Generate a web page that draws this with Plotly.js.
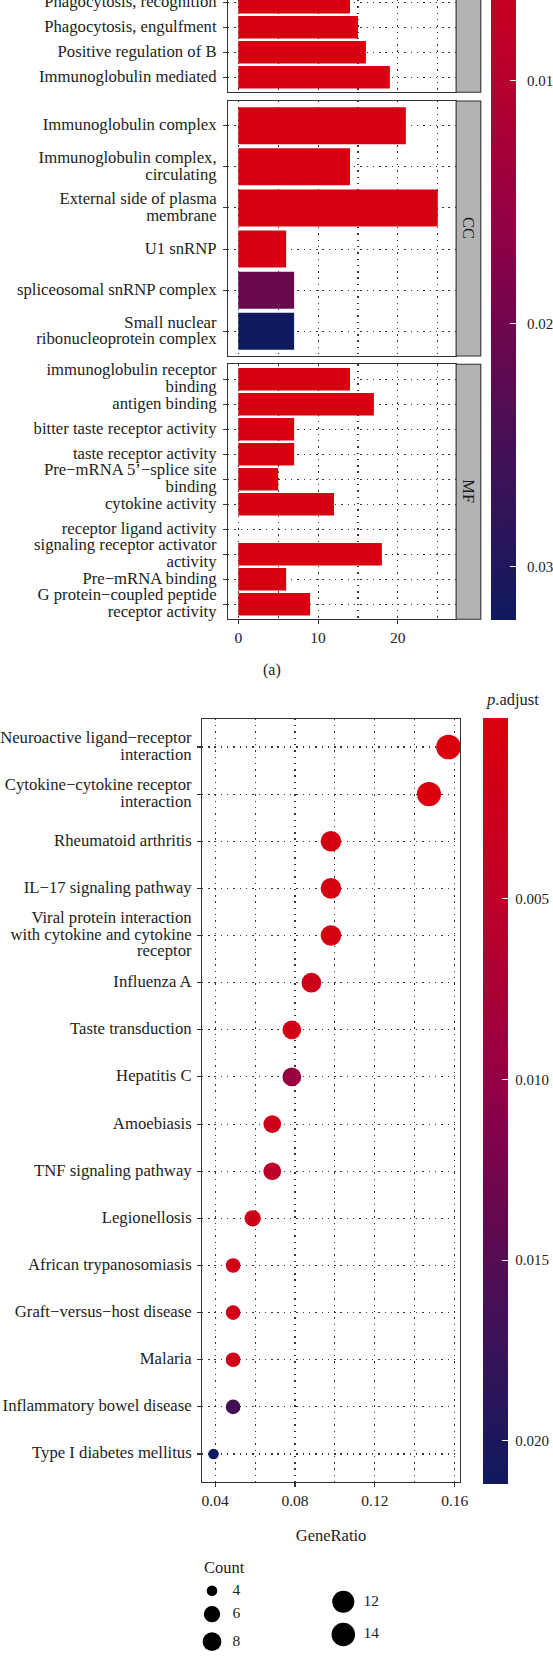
<!DOCTYPE html>
<html><head><meta charset="utf-8">
<script src="https://cdn.plot.ly/plotly-3.0.1.min.js"></script>
<style>html,body{margin:0;padding:0;background:#fff;}</style>
</head><body><div id="chart" style="width:553px;height:1667px;"></div>
<script>
// ---------------- Panel (a): GO enrichment (bar chart, faceted) ----------------
const bpTerms = ["Phagocytosis, recognition", "Phagocytosis, engulfment", "Positive regulation of B", "Immunoglobulin mediated"];
const bpCount = [14, 15, 16, 19];
const bpPadj  = [0.0020, 0.0020, 0.0020, 0.0020];

const ccTerms = ["Immunoglobulin complex", "Immunoglobulin complex,<br>circulating", "External side of plasma<br>membrane", "U1 snRNP", "spliceosomal snRNP complex", "Small nuclear<br>ribonucleoprotein complex"];
const ccCount = [21, 14, 25, 6, 7, 7];
const ccPadj  = [0.0020, 0.0020, 0.0020, 0.0025, 0.0210, 0.0322];

const mfTerms = ["immunoglobulin receptor<br>binding", "antigen binding", "bitter taste receptor activity", "taste receptor activity", "Pre−mRNA 5’−splice site<br>binding", "cytokine activity", "receptor ligand activity", "signaling receptor activator<br>activity", "Pre−mRNA binding", "G protein−coupled peptide<br>receptor activity"];
const mfCount = [14, 17, 7, 7, 5, 12, null, 18, 6, 9];
const mfPadj  = [0.0020, 0.0020, 0.0020, 0.0020, 0.0020, 0.0020, null, 0.0020, 0.0020, 0.0020];

const countAxisRange = [-1.3, 27.3];
const padjTopLimits  = [0.001, 0.0322];
const padjTopTicks   = [0.01, 0.02, 0.03];

// ---------------- Panel (b): KEGG enrichment (dot plot) ----------------
const keggTerms = ["Neuroactive ligand−receptor<br>interaction", "Cytokine−cytokine receptor<br>interaction", "Rheumatoid arthritis", "IL−17 signaling pathway", "Viral protein interaction<br>with cytokine and cytokine<br>receptor", "Influenza A", "Taste transduction", "Hepatitis C", "Amoebiasis", "TNF signaling pathway", "Legionellosis", "African trypanosomiasis", "Graft−versus−host disease", "Malaria", "Inflammatory bowel disease", "Type I diabetes mellitus"];
const keggGeneRatio = [0.1569, 0.1471, 0.0980, 0.0980, 0.0980, 0.0882, 0.0784, 0.0784, 0.0686, 0.0686, 0.0588, 0.0490, 0.0490, 0.0490, 0.0490, 0.0392];
const keggCount = [16, 15, 10, 10, 10, 9, 8, 8, 7, 7, 6, 5, 5, 5, 5, 4];
const keggPadj  = [0.000014, 0.00005, 0.0012, 0.0012, 0.0012, 0.0025, 0.0015, 0.0095, 0.0025, 0.0055, 0.0020, 0.0020, 0.0020, 0.0020, 0.0165, 0.0212];
const padjBottomTicks = [0.005, 0.010, 0.015, 0.020];
const countLegend = [4, 6, 8, 10, 12, 14, 16];

// ---------------- Styling / layout helpers ----------------
const W = 553, H = 1667;
const fx = px => px / W;
const fy = py => 1 - py / H;
const FONT = "Liberation Serif, Times New Roman, serif";
const TXT = "#222";
const LINE = "#333";
const NBSP = "\u00a0";
// category labels: glyphs at 16.7px, line pitch set by a smaller base size (tight leading as in the original)
const LABEL_PX = 16.7, LABEL_BASE = 12.7;
const lab = (s, pad) => s.split("<br>").map(t => '<span style="font-size:' + LABEL_PX + 'px">' + t + (pad || "") + '</span>').join("<br>");
const labTop = s => lab(s, NBSP);
const labBot = s => lab(s, "");
// colour scale (applied to -p so that low p sits at the top of the colour bar)
const cs = [[0, "#0F1A5E"], [0.25, "#4A0F55"], [0.5, "#8E0047"], [0.75, "#BE0029"], [1, "#DA000C"]];

// size mapping for Count
const cMin = Math.min(...keggCount), cMax = Math.max(...keggCount);
const sizeFn = c => 10.6 + 14.1 * Math.sqrt((c - cMin) / (cMax - cMin));

const dotted = {griddash: "1.4px,4.9px", gridcolor: LINE, gridwidth: 1.1};

// top geometry (px)
const topX = [227.9, 456.1];
const bpBottom = 92.3;
const ccY = [101, 356];
const mfY = [364.3, 619.3];
const rowUnit = (mfY[1] - mfY[0]) / (mfTerms.length - 1 + 1.2);
const stripW = 24.7 / (topX[1] - topX[0]);

function yCat(domain, cats, labFn, range, anchor, standoff) {
  return Object.assign({
    domain: domain, anchor: anchor, type: "category",
    categoryorder: "array", categoryarray: cats.map(labFn), range: range,
    showline: true, mirror: true, linecolor: LINE, linewidth: 1.1,
    ticks: "outside", ticklen: 3.5, tickcolor: LINE, tickwidth: 1.1,
    ticklabelstandoff: standoff,
    tickfont: {family: FONT, size: LABEL_BASE, color: TXT},
    showgrid: true, zeroline: false, fixedrange: true
  }, dotted);
}
function xTop(anchor, showLabels, mirror) {
  return Object.assign({
    domain: [fx(topX[0]), fx(topX[1])], anchor: anchor, range: countAxisRange,
    tick0: 0, dtick: 10, showticklabels: showLabels,
    ticks: showLabels ? "outside" : "", ticklen: 3.5, tickcolor: LINE, tickwidth: 1.1,
    tickfont: {family: FONT, size: 15.5, color: TXT},
    showline: true, mirror: mirror, linecolor: LINE, linewidth: 1.1,
    showgrid: true, zeroline: false, fixedrange: true,
    minor: Object.assign({tick0: 0, dtick: 5, showgrid: true, ticks: ""}, dotted)
  }, dotted);
}

const traces = [];
function barTrace(terms, counts, padj, xa, ya) {
  return {
    type: "bar", orientation: "h", x: counts, y: terms.map(labTop), xaxis: xa, yaxis: ya,
    width: 0.9, showlegend: false, hoverinfo: "skip",
    marker: {color: padj.map(v => v == null ? null : -v), coloraxis: "coloraxis", line: {width: 0}}
  };
}
traces.push(barTrace(bpTerms, bpCount, bpPadj, "x", "y"));
traces.push(barTrace(ccTerms, ccCount, ccPadj, "x2", "y2"));
traces.push(barTrace(mfTerms, mfCount, mfPadj, "x3", "y3"));

traces.push({
  type: "scatter", mode: "markers", x: keggGeneRatio, y: keggTerms.map(labBot), xaxis: "x4", yaxis: "y4",
  cliponaxis: false, showlegend: false, hoverinfo: "skip",
  marker: {size: keggCount.map(sizeFn), sizemode: "diameter", color: keggPadj.map(v => -v), coloraxis: "coloraxis2", line: {width: 0}, opacity: 1}
});

// Count legend (custom, drawn on a hidden px-scaled axis)
const legCols = [212, 343.3], legLabelX = [232.5, 363.5], legStart = [1590.7, 1601.7], legGap = 10;
const perCol = Math.ceil(countLegend.length / 2);
const legX = [], legY = [], legTX = [];
let prevD = null, col = -1, yCur = 0;
countLegend.forEach((c, i) => {
  const cc = Math.floor(i / perCol);
  const d = sizeFn(c);
  if (cc !== col) { col = cc; yCur = legStart[cc]; }
  else { yCur += prevD / 2 + legGap + d / 2; }
  prevD = d;
  legX.push(legCols[cc]); legY.push(yCur); legTX.push(legLabelX[cc]);
});
traces.push({
  type: "scatter", mode: "markers", x: legX, y: legY, xaxis: "x5", yaxis: "y5",
  cliponaxis: false, showlegend: false, hoverinfo: "skip",
  marker: {size: countLegend.map(sizeFn), sizemode: "diameter", color: "rgb(0,0,0)", opacity: 1, line: {width: 0}}
});
traces.push({
  type: "scatter", mode: "text", x: legTX, y: legY, text: countLegend.map(String), xaxis: "x5", yaxis: "y5",
  textposition: "middle right", cliponaxis: false, showlegend: false, hoverinfo: "skip",
  textfont: {family: FONT, size: 15.5, color: TXT}
});

// bottom geometry
const botX = [201.8, 460.3], botY = [718.7, 1482.3];
const grMin = Math.min(...keggGeneRatio), grMax = Math.max(...keggGeneRatio);
const grPad = 0.05 * (grMax - grMin);
const pMinB = Math.min(...keggPadj), pMaxB = Math.max(...keggPadj);

// colour-bar geometry (px)
const cbTop = {x: 491.2, w: 24.5, bottom: 620, pxPerUnit: 24280};
const cbBot = {x: 482.5, w: 24.7, bottom: 1484.3, top: 718.3};
const cbBotPxPerUnit = (cbBot.bottom - cbBot.top) / (pMaxB - pMinB);
// white tick marks on the left edge of the colour bars (ggplot style, both sides)
const cbTickShapes = [];
padjTopTicks.forEach(v => {
  const py = cbTop.bottom - (padjTopLimits[1] - v) * cbTop.pxPerUnit;
  cbTickShapes.push({type: "line", xref: "paper", yref: "paper", x0: fx(cbTop.x), x1: fx(cbTop.x + 5.5), y0: fy(py), y1: fy(py), line: {color: "#fff", width: 1.1}, layer: "above"});
});
padjBottomTicks.forEach(v => {
  const py = cbBot.bottom - (pMaxB - v) * cbBotPxPerUnit;
  cbTickShapes.push({type: "line", xref: "paper", yref: "paper", x0: fx(cbBot.x), x1: fx(cbBot.x + 5.5), y0: fy(py), y1: fy(py), line: {color: "#fff", width: 1.1}, layer: "above"});
});

const layout = {
  width: W, height: H, margin: {l: 0, r: 0, t: 0, b: 0, autoexpand: false},
  paper_bgcolor: "#fff", plot_bgcolor: "#fff", showlegend: false,
  font: {family: FONT, color: TXT},
  bargap: 0.1,
  xaxis: xTop("y", false, false),
  yaxis: yCat([fy(bpBottom), 1], bpTerms, labTop, [bpTerms.length - 0.4, bpTerms.length - 0.4 - bpBottom / rowUnit], "x", 0),
  xaxis2: xTop("y2", false, true),
  yaxis2: yCat([fy(ccY[1]), fy(ccY[0])], ccTerms, labTop, [ccTerms.length - 0.4, -0.6], "x2", 0),
  xaxis3: xTop("y3", true, true),
  yaxis3: yCat([fy(mfY[1]), fy(mfY[0])], mfTerms, labTop, [mfTerms.length - 0.4, -0.6], "x3", 0),
  xaxis4: Object.assign({
    domain: [fx(botX[0]), fx(botX[1])], anchor: "y4", range: [grMin - grPad, grMax + grPad],
    tick0: 0.04, dtick: 0.04, tickformat: ".2f",
    ticks: "outside", ticklen: 3.5, tickcolor: LINE, tickwidth: 1.1,
    tickfont: {family: FONT, size: 15.5, color: TXT},
    showline: true, mirror: true, linecolor: LINE, linewidth: 1.1,
    showgrid: true, zeroline: false, fixedrange: true,
    minor: Object.assign({tick0: 0.04, dtick: 0.02, showgrid: true, ticks: ""}, dotted),
    title: {text: "GeneRatio", font: {family: FONT, size: 16.5, color: TXT}, standoff: 21.7}
  }, dotted),
  yaxis4: yCat([fy(botY[1]), fy(botY[0])], keggTerms, labBot, [keggTerms.length - 0.4, -0.6], "x4", 3),
  xaxis5: {domain: [0, 1], range: [0, W], anchor: "y5", visible: false, fixedrange: true},
  yaxis5: {domain: [0, fy(1545)], range: [H, 1545], anchor: "x5", visible: false, fixedrange: true},
  coloraxis: {
    cmin: -padjTopLimits[1], cmax: -padjTopLimits[0], colorscale: cs, showscale: true,
    colorbar: {
      x: fx(cbTop.x), xanchor: "left", xpad: 0, y: fy(cbTop.bottom), yanchor: "bottom", ypad: 0,
      lenmode: "pixels", len: (padjTopLimits[1] - padjTopLimits[0]) * cbTop.pxPerUnit,
      thicknessmode: "pixels", thickness: cbTop.w, outlinewidth: 0,
      ticks: "inside", ticklen: 5.5, tickcolor: "#fff", tickwidth: 1.1,
      tickvals: padjTopTicks.map(v => -v), ticktext: padjTopTicks.map(v => NBSP + NBSP + v.toFixed(2)),
      tickfont: {family: FONT, size: 15, color: TXT}
    }
  },
  coloraxis2: {
    cmin: -pMaxB, cmax: -pMinB, colorscale: cs, showscale: true,
    colorbar: {
      x: fx(cbBot.x), xanchor: "left", xpad: 0, y: fy(cbBot.bottom), yanchor: "bottom", ypad: 0,
      lenmode: "pixels", len: cbBot.bottom - cbBot.top,
      thicknessmode: "pixels", thickness: cbBot.w, outlinewidth: 0,
      ticks: "inside", ticklen: 5.5, tickcolor: "#fff", tickwidth: 1.1,
      tickvals: padjBottomTicks.map(v => -v), ticktext: padjBottomTicks.map(v => NBSP + v.toFixed(3)),
      tickfont: {family: FONT, size: 15, color: TXT}
    }
  },
  shapes: [
    {type: "rect", xref: "x domain", yref: "y domain", x0: 1, x1: 1 + stripW, y0: 0, y1: 3, fillcolor: "#B3B3B3", line: {color: LINE, width: 1.1}, layer: "above"},
    {type: "rect", xref: "x2 domain", yref: "y2 domain", x0: 1, x1: 1 + stripW, y0: 0, y1: 1, fillcolor: "#B3B3B3", line: {color: LINE, width: 1.1}, layer: "above"},
    {type: "rect", xref: "x3 domain", yref: "y3 domain", x0: 1, x1: 1 + stripW, y0: 0, y1: 1, fillcolor: "#B3B3B3", line: {color: LINE, width: 1.1}, layer: "above"}
  ].concat(cbTickShapes),
  annotations: [
    {xref: "x2 domain", yref: "y2 domain", x: 1 + stripW / 2, y: 0.5, xanchor: "center", yanchor: "middle", text: "CC", textangle: 90, showarrow: false, font: {family: FONT, size: 16.5, color: "#1A1A1A"}},
    {xref: "x3 domain", yref: "y3 domain", x: 1 + stripW / 2, y: 0.5, xanchor: "center", yanchor: "middle", text: "MF", textangle: 90, showarrow: false, font: {family: FONT, size: 16.5, color: "#1A1A1A"}},
    {xref: "paper", yref: "paper", x: fx(272.3), y: fy(670), xanchor: "center", yanchor: "middle", text: "(a)", showarrow: false, font: {family: FONT, size: 16, color: TXT}},
    {xref: "paper", yref: "paper", x: fx(484), y: fy(699), xanchor: "left", yanchor: "middle", text: "<i>p</i>.adjust", showarrow: false, font: {family: FONT, size: 16.5, color: TXT}},
    {xref: "x5", yref: "y5", x: 202.3, y: 1567.7, xanchor: "left", yanchor: "middle", text: "Count", showarrow: false, font: {family: FONT, size: 16.5, color: TXT}}
  ]
};

Plotly.newPlot("chart", traces, layout, {staticPlot: true, displayModeBar: false});
</script>
</body></html>
